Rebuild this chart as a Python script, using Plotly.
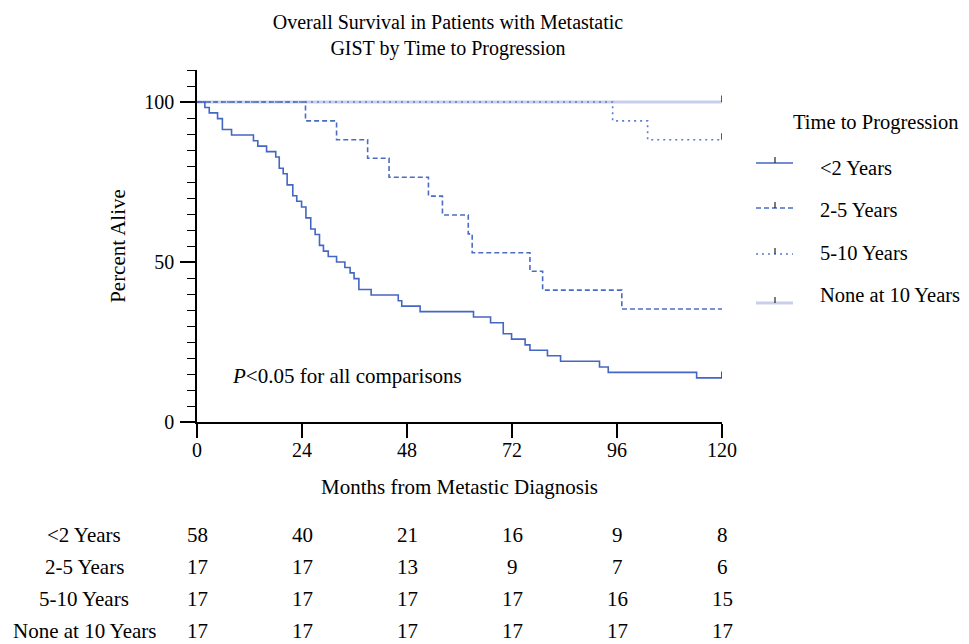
import plotly.graph_objects as go

# ---------------- data ----------------
months_lt2 = [0, 1.8, 2.8, 4.7, 5.8, 7.9, 12.9, 13.9, 15.9, 18.0, 18.8, 19.7, 20.6, 21.9, 22.8,
              23.9, 24.9, 26.0, 27.0, 28.0, 28.9, 30.0, 31.9, 33.8, 35.0, 35.9, 37.0, 39.8,
              46.0, 46.8, 51.0, 63.2, 67.1, 70.0, 71.9, 75.0, 76.1, 80.1, 83.1, 92.0, 94.0,
              114.2, 120]
surv_lt2 = [100, 98.3, 96.6, 94.8, 91.4, 89.7, 87.9, 86.2, 84.5, 82.8, 79.3, 77.6, 74.1, 70.7,
            69.0, 67.2, 63.8, 60.3, 58.6, 55.2, 53.4, 51.7, 50.0, 48.3, 46.6, 44.8, 41.4, 39.7,
            37.9, 36.2, 34.5, 32.8, 31.0, 27.6, 25.9, 24.1, 22.4, 20.7, 19.0, 17.2, 15.5,
            13.8, 13.8]

months_2_5 = [0, 24.8, 31.9, 39.0, 43.9, 52.9, 56.1, 62.0, 62.9, 76.1, 79.0, 97.1, 120]
surv_2_5 = [100, 94.1, 88.2, 82.4, 76.5, 70.6, 64.7, 58.8, 52.9, 47.1, 41.2, 35.3, 35.3]

months_5_10 = [0, 95.0, 103.0, 120]
surv_5_10 = [100, 94.1, 88.2, 88.2]

months_none = [0, 120]
surv_none = [100, 100]

group_names = ["<2 Years", "2-5 Years", "5-10 Years", "None at 10 Years"]
risk_times = [0, 24, 48, 72, 96, 120]
risk_lt2 = [58, 40, 21, 16, 9, 8]
risk_2_5 = [17, 17, 13, 9, 7, 6]
risk_5_10 = [17, 17, 17, 17, 16, 15]
risk_none = [17, 17, 17, 17, 17, 17]

x_ticks = [0, 24, 48, 72, 96, 120]
y_ticks = [0, 50, 100]

# ---------------- layout helpers ----------------
OFF = 8                      # page body margin in the screenshot
W, H = 969 - OFF, 644 - OFF
L, R, T, B = 197 - OFF, 722 - OFF, 70 - OFF, 422 - OFF   # plot area (layout px)
FONT = "Liberation Serif"
FS = 21
FS_TICK = 20
FS_LEG = 20.5


def px_x(p):
    """screen px -> paper x"""
    return (p - OFF - L) / (R - L)


def px_y(p):
    """screen px -> paper y"""
    return (B - (p - OFF)) / (B - T)


styles = [
    dict(color="#4466C4", width=1.6, dash="solid"),
    dict(color="#4A6CC6", width=1.6, dash="5px,3px"),
    dict(color="#5A7BD0", width=1.6, dash="2px,4px"),
    dict(color="#C9CFEA", width=3.0, dash="solid"),
]
series = [
    (months_lt2, surv_lt2, True),
    (months_2_5, surv_2_5, False),
    (months_5_10, surv_5_10, True),
    (months_none, surv_none, True),
]

fig = go.Figure()

# draw order: lightest first
for i in [3, 2, 1, 0]:
    xs, ys, censored = series[i]
    fig.add_trace(go.Scatter(x=xs, y=ys, mode="lines", line_shape="hv", name=group_names[i],
                             line=styles[i], showlegend=False, hoverinfo="skip"))
    if censored:
        fig.add_trace(go.Scatter(x=[xs[-1], xs[-1]], y=[ys[-1], ys[-1] + 2.0], mode="lines",
                                 line=dict(color="#222222", width=1.5),
                                 showlegend=False, hoverinfo="skip"))

ann = []
shapes = []

# manual legend
ann.append(dict(x=px_x(876), y=px_y(122), xref="paper", yref="paper", xanchor="center",
                yanchor="middle", showarrow=False, text="Time to Progression",
                font=dict(family=FONT, size=FS_LEG, color="black")))
legend_text_y = [168, 210, 253, 295]
legend_line_y = [163, 208, 254, 303]
for i, name in enumerate(group_names):
    ann.append(dict(x=px_x(818), y=px_y(legend_text_y[i]), xref="paper", yref="paper",
                    xanchor="left", yanchor="middle", showarrow=False, text=name,
                    font=dict(family=FONT, size=FS_LEG, color="black")))
    ly = px_y(legend_line_y[i])
    shapes.append(dict(type="line", xref="paper", yref="paper", x0=px_x(756), x1=px_x(793),
                       y0=ly, y1=ly, line=styles[i]))
    shapes.append(dict(type="line", xref="paper", yref="paper", x0=px_x(775), x1=px_x(775),
                       y0=ly, y1=px_y(legend_line_y[i] - 6),
                       line=dict(color="#222222", width=1.2)))

# P annotation
ann.append(dict(x=px_x(230), y=px_y(376), xref="paper", yref="paper", xanchor="left",
                yanchor="middle", showarrow=False,
                text="<i>P</i><0.05 for all comparisons",
                font=dict(family=FONT, size=FS, color="black")))

# number at risk table
risk_rows = [risk_lt2, risk_2_5, risk_5_10, risk_none]
row_y = [535, 567, 599, 631]
for name, vals, py in zip(group_names, risk_rows, row_y):
    ann.append(dict(x=px_x(84), y=px_y(py), xref="paper", yref="paper", xanchor="center",
                    yanchor="middle", showarrow=False, text=name,
                    font=dict(family=FONT, size=FS, color="black")))
    for t, v in zip(risk_times, vals):
        ann.append(dict(x=t, y=px_y(py), xref="x", yref="paper", xanchor="center",
                        yanchor="middle", showarrow=False, text=str(v),
                        font=dict(family=FONT, size=FS, color="black")))

fig.update_layout(
    width=W, height=H,
    margin=dict(l=L, r=W - R, t=T, b=H - B),
    paper_bgcolor="white", plot_bgcolor="white",
    font=dict(family=FONT, size=FS, color="black"),
    showlegend=False,
    title=dict(text="Overall Survival in Patients with Metastatic<br>GIST by Time to Progression",
               x=(448 - OFF) / W, xref="container", xanchor="center",
               y=1 - 21 / H, yref="container", yanchor="middle",
               font=dict(family=FONT, size=FS_TICK, color="black")),
    xaxis=dict(range=[0, 120], tickvals=x_ticks, ticks="outside", ticklen=14, tickwidth=1.5,
               tickcolor="black", showline=True, linecolor="black", linewidth=1.5,
               showgrid=False, zeroline=False, tickfont=dict(family=FONT, size=FS_TICK),
               ticklabelstandoff=-5,
               title=dict(text="Months from Metastic Diagnosis", standoff=20,
                          font=dict(family=FONT, size=FS))),
    yaxis=dict(range=[0, 110], tickvals=y_ticks, ticks="outside", ticklen=15, tickwidth=1.5,
               tickcolor="black", showline=True, linecolor="black", linewidth=1.5,
               showgrid=False, zeroline=False, tickfont=dict(family=FONT, size=FS_TICK),
               ticklabelstandoff=2,
               minor=dict(dtick=5, tick0=0, ticks="outside", ticklen=8, tickwidth=1.3,
                          tickcolor="black"),
               title=dict(text="Percent Alive", standoff=13, font=dict(family=FONT, size=FS))),
    annotations=ann,
    shapes=shapes,
)

fig.write_html("out.html")
